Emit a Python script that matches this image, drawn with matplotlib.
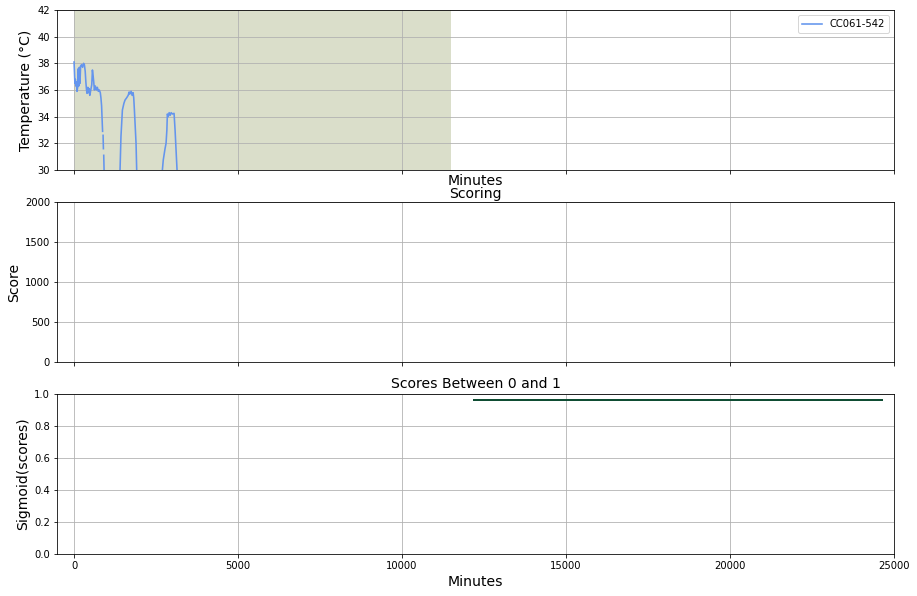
import numpy as np
import matplotlib
matplotlib.use("Agg")
import matplotlib.pyplot as plt

# Temperature series (minutes, °C); NaN = missing samples
temp_minutes = [0, 10, 25, 40, 55, 70, 90, 110, 130, 145, 160, 180, 200, 230, 260,
                290, 315, 340, 360, 380, 396, 420, 440, 460, 480, 510, 540, 560,
                580, 600, 620, 650, 680, 710, 740, 770, 800, 820, 840, 860, 870,
                880, 885, 895, 900, 905, 920, 1000, 1300,
                1385, 1402, 1430, 1474, 1520, 1555, 1600, 1650, 1680, 1700, 1740,
                1770, 1800, 1820, 1840, 1860, 1890, 1915, 2000, 2600,
                2680, 2693, 2720, 2774, 2805, 2830, 2845, 2870, 2900, 2930, 2960,
                3000, 3049, 3080, 3110, 3150, 3300]
temp_values = [38.1, 37.5, 36.5, 36.8, 36.3, 36.6, 35.9, 36.2, 37.6, 36.3, 37.7,
               36.5, 37.8, 37.9, 37.7, 38.0, 37.9, 37.4, 36.6, 36.0, 35.75, 36.2,
               35.8, 36.1, 35.6, 36.0, 36.4, 37.5, 37.1, 36.6, 36.0, 36.3, 36.0,
               36.2, 35.9, 36.0, 35.8, 35.4, 34.8, 33.5, 32.9,
               np.nan, 32.6, 31.6, np.nan, 31.1, 29.5, 27.0, 27.0,
               29.0, 30.0, 32.5, 34.5, 35.0, 35.25, 35.4, 35.6, 35.85, 35.7, 35.9,
               35.6, 35.8, 35.4, 34.5, 33.5, 32.0, 29.5, 27.0, 27.0,
               29.5, 30.0, 30.75, 31.6, 32.0, 33.0, 34.2, 34.0, 34.3, 34.1, 34.3,
               34.2, 34.25, 33.0, 31.5, 29.5, 27.0]

# Scores mapped through a sigmoid
score_minutes = [12200, 24630]
score_values = [0.962, 0.962]

shade_start, shade_end = 0, 11500

DPI = 72
fig, (ax1, ax2, ax3) = plt.subplots(3, 1, sharex=True, figsize=(917/DPI, 596/DPI), dpi=DPI)
fig.subplots_adjust(left=57/917, right=894/917, top=1-10/596, bottom=1-554/596, hspace=0.2)

ax1.axvspan(shade_start, shade_end, color='#dadeca', lw=0)
ax1.plot(temp_minutes, temp_values, color='#6495ED', lw=1.6, label='CC061-542')
ax1.set_ylim(30, 42)
ax1.set_yticks([30, 32, 34, 36, 38, 40, 42])
ax1.set_ylabel('Temperature (°C)', fontsize=14)
ax1.set_xlabel('Minutes', fontsize=14, labelpad=0)
ax1.grid(True)
ax1.legend(loc='upper right')

ax2.set_ylim(0, 2000)
ax2.set_yticks([0, 500, 1000, 1500, 2000])
ax2.set_ylabel('Score', fontsize=14)
ax2.set_title('Scoring', fontsize=14, pad=4)
ax2.grid(True)

ax3.plot(score_minutes, score_values, color='#0f4d33', lw=2)
ax3.set_ylim(0, 1.0)
ax3.set_ylabel('Sigmoid(scores)', fontsize=14)
ax3.set_xlabel('Minutes', fontsize=14)
ax3.set_title('Scores Between 0 and 1', fontsize=14)
ax3.grid(True)

ax3.set_xlim(-520, 25000)
ax3.set_xticks([0, 5000, 10000, 15000, 20000, 25000])

fig.savefig('out.png', dpi=DPI)
